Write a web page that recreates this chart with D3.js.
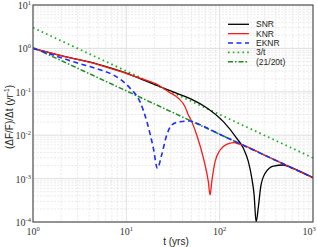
<!DOCTYPE html>
<html lang="en">
<head>
<meta charset="utf-8">
<script src="https://d3js.org/d3.v7.min.js"></script>
<style>
  body { margin: 0; background: #fff; }
  text { font-family: "Liberation Sans", Arial, sans-serif; }
  .tick-label { font-family: "Liberation Serif", "Times New Roman", serif; font-size: 10px; fill: #333; }
</style>
</head>
<body>
<div id="chart"></div>
<script>
// t (yrs) and (dF/F)/dt values
var snrT = [1, 2, 5, 10, 15.9, 22, 33.3, 50.2, 69.8, 109.6, 152.5, 179.5, 203, 221, 234, 245.7, 260, 275.5, 306.6, 376.7, 482, 592, 1000];
var snrV = [1.0, 0.68, 0.43, 0.27, 0.18, 0.136, 0.0953, 0.0672, 0.0454, 0.0205, 0.00849, 0.00499, 0.00245, 0.00102, 0.00042, 0.0001, 0.000225, 0.00065, 0.00132, 0.00195, 0.00206, 0.00177, 0.00105];

var knrT = [1, 2, 5, 10, 14.6, 22, 28.2, 36.1, 42.6, 46.2, 48.3, 56.8, 66.9, 75.6, 78.9, 82.3, 89.3, 101, 119, 140, 165.5, 179.5, 300, 1000];
var knrV = [1.0, 0.68, 0.425, 0.264, 0.2, 0.1435, 0.1005, 0.0708, 0.0454, 0.0292, 0.0245, 0.0101, 0.00299, 0.00085, 0.00042, 0.00085, 0.00245, 0.00456, 0.00617, 0.00672, 0.00617, 0.00585, 0.0035, 0.00105];

var eknrT = [1, 2, 3, 5, 7.26, 11, 14, 16.6, 19.5, 21.5, 23.9, 27.1, 30.7, 37.6, 48.2, 52.3, 100, 1000];
var eknrV = [1.0, 0.61, 0.46, 0.33, 0.244, 0.12, 0.0592, 0.0205, 0.00499, 0.00173, 0.0035, 0.0101, 0.0172, 0.0205, 0.0212, 0.0201, 0.0105, 0.00105];

var threeT = [1, 1000];
var threeV = [3, 0.003];

var kT = [1, 1000];
var kV = [1.05, 0.00105];

var xDecades = [0, 1, 2, 3];
var yDecades = [-4, -3, -2, -1, 0, 1];

var W = 317, H = 247;
var L = 33, R = 313, T = 5, B = 222;

var svg = d3.select("#chart").append("svg")
    .attr("width", W).attr("height", H);

var x = d3.scaleLog().domain([1, 1000]).range([L, R]);
var y = d3.scaleLog().domain([1e-4, 10]).range([B, T]);

svg.append("defs").append("clipPath").attr("id", "clip")
  .append("rect").attr("x", L).attr("y", T).attr("width", R - L).attr("height", B - T);

// grid
var grid = svg.append("g");
xDecades.forEach(function(e) {
  for (var m = 1; m < 10; m++) {
    var v = m * Math.pow(10, e);
    if (v > 1000) break;
    grid.append("line")
      .attr("x1", x(v)).attr("x2", x(v)).attr("y1", T).attr("y2", B)
      .attr("stroke", m == 1 ? "#d8d8d8" : "#e4e4e4")
      .attr("stroke-width", 0.8)
      .attr("stroke-dasharray", m == 1 ? null : "2,1.5");
  }
});
yDecades.forEach(function(e) {
  for (var m = 1; m < 10; m++) {
    var v = m * Math.pow(10, e);
    if (v > 10) break;
    grid.append("line")
      .attr("x1", L).attr("x2", R).attr("y1", y(v)).attr("y2", y(v))
      .attr("stroke", m == 1 ? "#d8d8d8" : "#e4e4e4")
      .attr("stroke-width", 0.8)
      .attr("stroke-dasharray", m == 1 ? null : "2,1.5");
  }
});

// curves
var plot = svg.append("g").attr("clip-path", "url(#clip)");

function draw(ts, vs, color, dash, width) {
  var pts = ts.map(function(t, i) { return [t, vs[i]]; });
  plot.append("path")
    .datum(pts)
    .attr("fill", "none")
    .attr("stroke", color)
    .attr("stroke-width", width)
    .attr("stroke-dasharray", dash)
    .attr("d", d3.line()
      .x(function(d) { return x(d[0]); })
      .y(function(d) { return y(d[1]); })
      .curve(d3.curveMonotoneX));
}

draw(threeT, threeV, "#22b022", "1.6,3.2", 1.8);
draw(kT, kV, "#1e8c1e", "5,2,1.5,2", 1.5);
draw(snrT, snrV, "#000", null, 1.3);
draw(knrT, knrV, "#ff1a1a", null, 1.3);
draw(eknrT, eknrV, "#1a2cff", "5,3.5", 1.6);

// frame
svg.append("rect")
  .attr("x", L).attr("y", T).attr("width", R - L).attr("height", B - T)
  .attr("fill", "none").attr("stroke", "#555").attr("stroke-width", 1.2);

// tick labels
xDecades.forEach(function(e) {
  var t = svg.append("text").attr("class", "tick-label")
    .attr("x", Math.min(x(Math.pow(10, e)), 309)).attr("y", 235)
    .attr("text-anchor", "middle");
  t.append("tspan").text("10");
  t.append("tspan").attr("dy", -4).attr("font-size", "6.5px").text(e);
});
yDecades.forEach(function(e) {
  var t = svg.append("text").attr("class", "tick-label")
    .attr("x", 31).attr("y", y(Math.pow(10, e)) + 4)
    .attr("text-anchor", "end");
  t.append("tspan").text("10");
  t.append("tspan").attr("dy", -4).attr("font-size", "6.5px").text(e);
});

// axis titles
svg.append("text")
  .attr("x", 176).attr("y", 245)
  .attr("text-anchor", "middle")
  .attr("font-size", "10px").attr("fill", "#222")
  .text("t (yrs)");

var yl = svg.append("text")
  .attr("transform", "translate(13,117) rotate(-90)")
  .attr("text-anchor", "middle")
  .attr("font-size", "10px").attr("fill", "#222");
yl.append("tspan").text("(ΔF/F)/Δt  (yr");
yl.append("tspan").attr("dy", -4).attr("font-size", "6.5px").text("-1");
yl.append("tspan").attr("dy", 4).text(")");

// legend
var names = ["SNR", "KNR", "EKNR", "3/t", "(21/20t)"];
var colors = ["#000", "#ff1a1a", "#1a2cff", "#22b022", "#1e8c1e"];
var dashes = [null, null, "5,3.5", "1.6,3.2", "5,2,1.5,2"];
var widths = [1.3, 1.3, 1.6, 1.8, 1.5];
names.forEach(function(n, i) {
  var yy = 24.3 + i * 9.35;
  svg.append("line")
    .attr("x1", 228).attr("x2", 249).attr("y1", yy).attr("y2", yy)
    .attr("stroke", colors[i]).attr("stroke-width", widths[i])
    .attr("stroke-dasharray", dashes[i]);
  svg.append("text")
    .attr("x", 256).attr("y", yy + 3)
    .attr("font-size", "8.5px").attr("fill", "#222")
    .text(n);
});
</script>
</body>
</html>
